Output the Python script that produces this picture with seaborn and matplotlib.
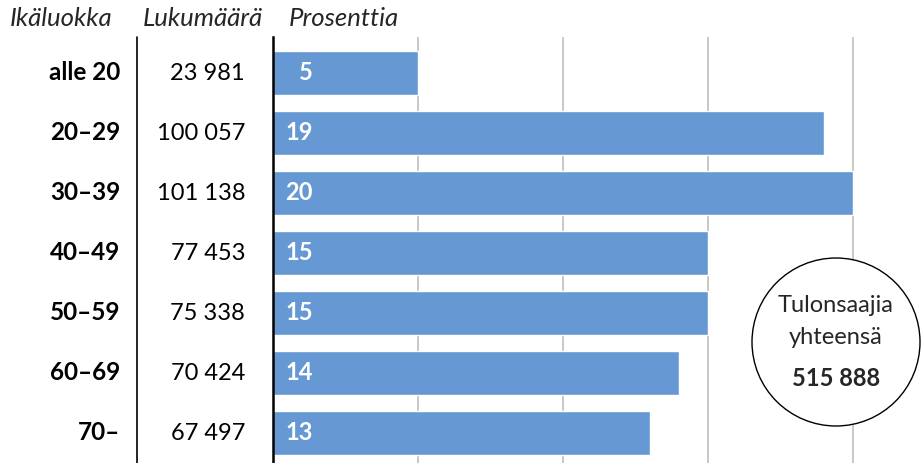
import matplotlib
matplotlib.use("Agg")
import matplotlib.pyplot as plt
import matplotlib.transforms as mtransforms
from matplotlib.patches import Ellipse
from matplotlib.lines import Line2D
import seaborn as sns
import pandas as pd

# data
categories = ["alle 20", "20–29", "30–39", "40–49", "50–59", "60–69", "70–"]
counts = ["23 981", "100 057", "101 138", "77 453", "75 338", "70 424", "67 497"]
percents = [5, 19, 20, 15, 15, 14, 13]
headers = ["Ikäluokka", "Lukumäärä", "Prosenttia"]
total_label = ["Tulonsaajia", "yhteensä", "515 888"]

sns.set_style("white")
plt.rcParams["font.family"] = ["Lato", "DejaVu Sans"]
FS = 17

W, H = 922, 463
fig = plt.figure(figsize=(W / 100, H / 100), dpi=100)
ax = fig.add_axes([273 / W, 0, (W - 273) / W, 426 / H])

df = pd.DataFrame({"cat": categories, "pct": percents})
sns.barplot(data=df, y="cat", x="pct", orient="h", color="#6699D3",
            saturation=1, width=0.72, ax=ax)

ax.set_xlim(0, (W - 273) / 29)
ax.set_ylim(6.5, -0.6)
ax.set_xticks([5, 10, 15, 20])
ax.grid(axis="x", color="#BFBFBF", lw=1.2)
ax.set_axisbelow(True)
ax.set_xticklabels([])
ax.set_yticks([])
ax.set_xlabel("")
ax.set_ylabel("")
ax.tick_params(length=0)
for s in ["top", "right", "bottom"]:
    ax.spines[s].set_visible(False)
ax.spines["left"].set_color("black")
ax.spines["left"].set_linewidth(1.8)

# table columns to the left of the bars
tr = mtransforms.blended_transform_factory(fig.transFigure, ax.transData)
for i, (c, n, p) in enumerate(zip(categories, counts, percents)):
    ax.text(120 / W, i, c, transform=tr, ha="right", va="center",
            fontsize=FS + 0.5, fontweight="bold", color="black")
    ax.text(245 / W, i, n, transform=tr, ha="right", va="center",
            fontsize=FS, color="black")
    ax.text(313 / W, i, str(p), transform=tr, ha="right", va="center",
            fontsize=FS, fontweight="bold", color="white")

# separator line between columns
fig.add_artist(Line2D([137 / W, 137 / W], [0, 426 / H], color="black", lw=1.2))

# headers
for x, h in zip([10, 143, 289], headers):
    fig.text(x / W, 1 - 19 / H, h, ha="left", va="center", fontsize=18.5,
             fontstyle="italic")

# total circle
cx, cy, r = 836, H - 342, 84
fig.add_artist(Ellipse((cx / W, cy / H), 2 * r / W, 2 * r / H,
                       transform=fig.transFigure, facecolor="white",
                       edgecolor="black", lw=1.0))
fig.text(cx / W, (cy + 37) / H, total_label[0], ha="center", va="center", fontsize=FS)
fig.text(cx / W, (cy + 4) / H, total_label[1], ha="center", va="center", fontsize=FS)
fig.text(cx / W, (cy - 36) / H, total_label[2], ha="center", va="center", fontsize=FS,
         fontweight="bold")

fig.savefig("out.png", dpi=100)
